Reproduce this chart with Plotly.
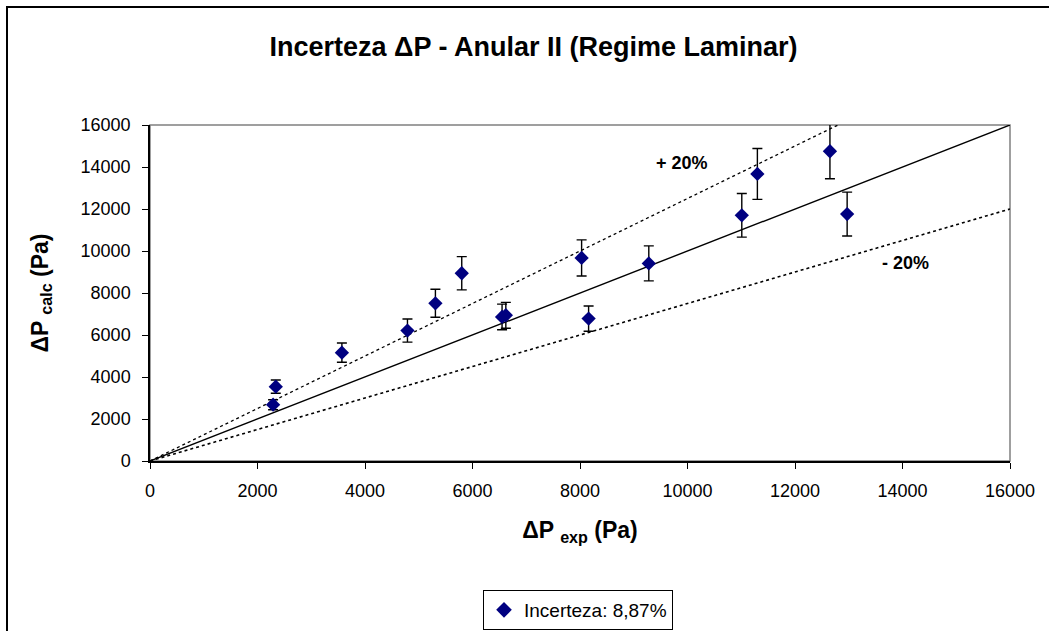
import plotly.graph_objects as go

# Measured vs. calculated pressure drop, annular geometry II, laminar regime
dp_exp = [2290, 2340, 3570, 4790, 5310, 5800, 6550, 6620, 8030, 8160,
          9280, 11010, 11300, 12650, 12970]
dp_calc = [2680, 3540, 5160, 6210, 7510, 8940, 6860, 6940, 9670, 6780,
           9410, 11700, 13670, 14750, 11760]
uncertainty_pct = 8.87

# Reference lines: perfect agreement and the +/- band
ref_x = [0, 16000]
ref_ideal = [0, 16000]
ref_upper = [0, 20000]
ref_lower = [0, 12000]

tick_vals = [0, 2000, 4000, 6000, 8000, 10000, 12000, 14000, 16000]
tick_text = ["0", "2000", "4000", "6000", "8000", "10000", "12000", "14000", "16000"]

W, H = 1049, 631
ML, MR, MT, MB = 150, 39, 125, 170
PW, PH = W - ML - MR, H - MT - MB
FONT = "Liberation Sans, Arial"

def px_x(px):
    return (px - ML) / PW

def px_y(py):
    return (H - MB - py) / PH

fig = go.Figure()

fig.add_trace(go.Scatter(x=ref_x, y=ref_ideal, mode="lines",
                         line=dict(color="black", width=1.4),
                         showlegend=False, hoverinfo="skip"))
fig.add_trace(go.Scatter(x=ref_x, y=ref_upper, mode="lines",
                         line=dict(color="black", width=1.3, dash="dot"),
                         showlegend=False, hoverinfo="skip"))
fig.add_trace(go.Scatter(x=ref_x, y=ref_lower, mode="lines",
                         line=dict(color="black", width=1.6, dash="dot"),
                         showlegend=False, hoverinfo="skip"))

fig.add_trace(go.Scatter(
    x=dp_exp, y=dp_calc, mode="markers",
    name="Incerteza: 8,87%",
    marker=dict(symbol="diamond", size=11, color="#000080"),
    error_y=dict(type="percent", value=uncertainty_pct, color="black",
                 thickness=1.4, width=5),
))

fig.add_annotation(x=9900, y=14200, text="<b>+ 20%</b>", showarrow=False,
                   font=dict(family=FONT, size=18, color="black"))
fig.add_annotation(x=14060, y=9450, text="<b>- 20%</b>", showarrow=False,
                   font=dict(family=FONT, size=18, color="black"))

# plot-area frame (grey) drawn under the black axis lines
fig.add_shape(type="rect", xref="x domain", yref="y domain", x0=0, x1=1, y0=0, y1=1,
              line=dict(color="#808080", width=1.5), layer="below")
# outer chart frame
fig.add_shape(type="rect", xref="paper", yref="paper",
              x0=px_x(7), x1=px_x(1060), y0=px_y(650), y1=px_y(7),
              line=dict(color="black", width=2), layer="below")

axis_common = dict(
    range=[0, 16000], tickvals=tick_vals, ticktext=tick_text,
    showgrid=False, zeroline=False,
    showline=True, linecolor="black", linewidth=1.5,
    ticks="outside", ticklen=6, tickcolor="black", tickwidth=1,
    tickfont=dict(family=FONT, size=18, color="black"),
    automargin=False,
)

fig.update_layout(
    width=W, height=H,
    margin=dict(l=ML, r=MR, t=MT, b=MB, autoexpand=False),
    paper_bgcolor="white", plot_bgcolor="white",
    title=dict(text="<b>Incerteza ΔP - Anular II (Regime Laminar)</b>",
               x=(262 + 805) / 2 / W, xanchor="center", y=1 - 47 / H, yanchor="middle",
               font=dict(family=FONT, size=27, color="black")),
    xaxis=dict(**axis_common, ticklabelstandoff=7,
               title=dict(text="<b>ΔP <sub>exp</sub> (Pa)</b>", standoff=22,
                          font=dict(family=FONT, size=23, color="black"))),
    yaxis=dict(**axis_common, ticklabelstandoff=8,
               title=dict(text="<b>ΔP <sub>calc</sub> (Pa)</b>", standoff=26,
                          font=dict(family=FONT, size=23, color="black"))),
    legend=dict(x=px_x(578), y=px_y(610), xanchor="center", yanchor="middle",
                bordercolor="black", borderwidth=1, bgcolor="white",
                font=dict(family=FONT, size=19, color="black"),
                itemwidth=30, itemsizing="constant"),
    showlegend=True,
)

fig.write_html("out.html")
